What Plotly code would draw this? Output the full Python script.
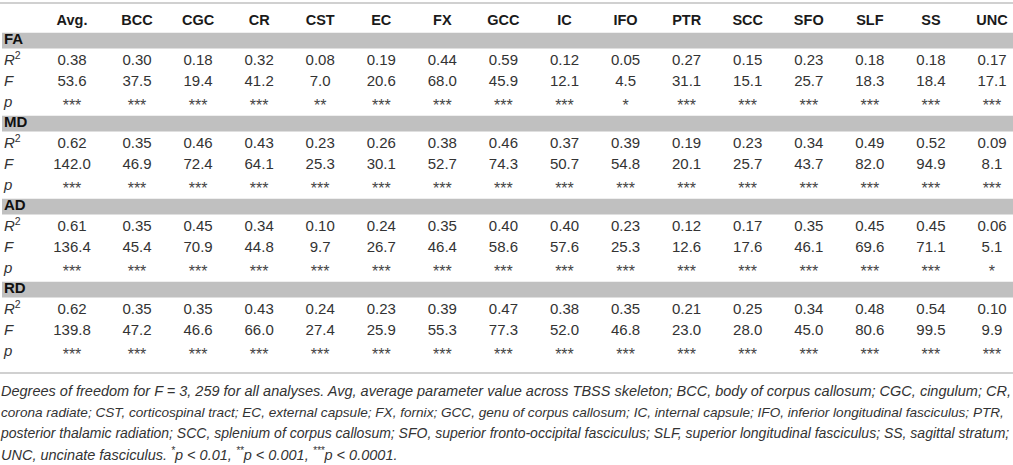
import plotly.graph_objects as go

# --- table content -------------------------------------------------------
columns = ["Avg.", "BCC", "CGC", "CR", "CST", "EC", "FX", "GCC", "IC",
           "IFO", "PTR", "SCC", "SFO", "SLF", "SS", "UNC"]
groups = ["FA", "MD", "AD", "RD"]

fa_r2 = [0.38, 0.30, 0.18, 0.32, 0.08, 0.19, 0.44, 0.59, 0.12, 0.05, 0.27, 0.15, 0.23, 0.18, 0.18, 0.17]
fa_f = [53.6, 37.5, 19.4, 41.2, 7.0, 20.6, 68.0, 45.9, 12.1, 4.5, 31.1, 15.1, 25.7, 18.3, 18.4, 17.1]
fa_p = ["***", "***", "***", "***", "**", "***", "***", "***", "***", "*", "***", "***", "***", "***", "***", "***"]

md_r2 = [0.62, 0.35, 0.46, 0.43, 0.23, 0.26, 0.38, 0.46, 0.37, 0.39, 0.19, 0.23, 0.34, 0.49, 0.52, 0.09]
md_f = [142.0, 46.9, 72.4, 64.1, 25.3, 30.1, 52.7, 74.3, 50.7, 54.8, 20.1, 25.7, 43.7, 82.0, 94.9, 8.1]
md_p = ["***"] * 16

ad_r2 = [0.61, 0.35, 0.45, 0.34, 0.10, 0.24, 0.35, 0.40, 0.40, 0.23, 0.12, 0.17, 0.35, 0.45, 0.45, 0.06]
ad_f = [136.4, 45.4, 70.9, 44.8, 9.7, 26.7, 46.4, 58.6, 57.6, 25.3, 12.6, 17.6, 46.1, 69.6, 71.1, 5.1]
ad_p = ["***"] * 15 + ["*"]

rd_r2 = [0.62, 0.35, 0.35, 0.43, 0.24, 0.23, 0.39, 0.47, 0.38, 0.35, 0.21, 0.25, 0.34, 0.48, 0.54, 0.10]
rd_f = [139.8, 47.2, 46.6, 66.0, 27.4, 25.9, 55.3, 77.3, 52.0, 46.8, 23.0, 28.0, 45.0, 80.6, 99.5, 9.9]
rd_p = ["***"] * 16

stat_labels = ["<i>R</i><sup>2</sup>", "<i>F</i>", "<i>p</i>"]

footnote_lines = [
    "Degrees of freedom for F = 3, 259 for all analyses. Avg, average parameter value across TBSS skeleton; "
    "BCC, body of corpus callosum; CGC, cingulum; CR,",
    "corona radiate; CST, corticospinal tract; EC, external capsule; FX, fornix; GCC, genu of corpus callosum; "
    "IC, internal capsule; IFO, inferior longitudinal fasciculus; PTR,",
    "posterior thalamic radiation; SCC, splenium of corpus callosum; SFO, superior fronto-occipital fasciculus; "
    "SLF, superior longitudinal fasciculus; SS, sagittal stratum;",
    "UNC, uncinate fasciculus. <sup>*</sup>p &lt; 0.01, <sup>**</sup>p &lt; 0.001, <sup>***</sup>p &lt; 0.0001.",
]

# --- layout constants ----------------------------------------------------
W, H = 1013, 465
ROW_PX = 20.75          # pixel height of one table row
ROW0_PX = 19.85         # pixel centre of header row
COL_X = [72] + [137 + 61.07 * k for k in range(len(columns) - 1)]
LABEL_X = 4
FONT = "Liberation Sans"
BAND = "#c0c0c0"
RULE = "#d0d0d0"
# per-line sizes so the (justified in the original) footnote lines fill the width
FOOT_SIZES = [14.5, 13.6, 14.0, 14.5]

group_data = {
    "FA": (fa_r2, fa_f, fa_p),
    "MD": (md_r2, md_f, md_p),
    "AD": (ad_r2, ad_f, ad_p),
    "RD": (rd_r2, rd_f, rd_p),
}

val_x, val_y, val_t = [], [], []
star_x, star_y, star_t = [], [], []
lab_y, lab_t = [], []
grp_y = []
shapes = []

for gi, g in enumerate(groups):
    band_row = 1 + 4 * gi
    grp_y.append(band_row)
    shapes.append(dict(type="rect", xref="x", yref="y", x0=2, x1=W,
                       y0=band_row - 0.38, y1=band_row + 0.38,
                       fillcolor=BAND, line=dict(width=0), layer="below"))
    r2, f, p = group_data[g]
    for k, (vals, fmt) in enumerate([(r2, "{:.2f}"), (f, "{:.1f}")]):
        for ci, v in enumerate(vals):
            val_x.append(COL_X[ci])
            val_y.append(band_row + 1 + k)
            val_t.append(fmt.format(v))
    for ci, s in enumerate(p):
        star_x.append(COL_X[ci])
        star_y.append(band_row + 3)
        star_t.append(s)
    for k, lab in enumerate(stat_labels):
        lab_y.append(band_row + 1 + k)
        lab_t.append(lab)

n_rows = 1 + 4 * len(groups)
y_top = -ROW0_PX / ROW_PX
y_bot = (H - ROW0_PX) / ROW_PX

# rules above and below the table
shapes.append(dict(type="line", xref="x", yref="y", x0=0, x1=W,
                   y0=-0.81, y1=-0.81, line=dict(color=RULE, width=2)))
shapes.append(dict(type="line", xref="x", yref="y", x0=0, x1=W,
                   y0=n_rows + 0.02, y1=n_rows + 0.02, line=dict(color=RULE, width=2)))

fig = go.Figure()

# header
fig.add_trace(go.Scatter(
    x=COL_X, y=[0.05] * len(columns), mode="text",
    text=["<b>%s</b>" % c for c in columns], textposition="middle center",
    textfont=dict(family=FONT, size=14.5, color="#1a1a1a"), hoverinfo="skip"))

# group names
fig.add_trace(go.Scatter(
    x=[LABEL_X] * len(groups), y=grp_y, mode="text",
    text=["<b>%s</b>" % g for g in groups], textposition="middle right",
    textfont=dict(family=FONT, size=15, color="#111111"), hoverinfo="skip"))

# stat labels
fig.add_trace(go.Scatter(
    x=[LABEL_X] * len(lab_y), y=lab_y, mode="text",
    text=lab_t, textposition="middle right",
    textfont=dict(family=FONT, size=15, color="#333333"), hoverinfo="skip"))

# values
fig.add_trace(go.Scatter(
    x=val_x, y=val_y, mode="text", text=val_t, textposition="middle center",
    textfont=dict(family=FONT, size=15, color="#333333"), hoverinfo="skip"))

# significance stars
fig.add_trace(go.Scatter(
    x=star_x, y=[y + 0.2 for y in star_y], mode="text", text=star_t,
    textposition="middle center",
    textfont=dict(family=FONT, size=16, color="#444444"), hoverinfo="skip"))

# footnote
foot_y = [n_rows + 0.93 + 1.036 * k for k in range(len(footnote_lines))]
fig.add_trace(go.Scatter(
    x=[1] * len(footnote_lines), y=foot_y, mode="text",
    text=["<i>%s</i>" % t for t in footnote_lines], textposition="middle right",
    textfont=dict(family=FONT, size=FOOT_SIZES, color="#333333"),
    hoverinfo="skip"))

fig.update_layout(
    width=W, height=H,
    margin=dict(l=0, r=0, t=0, b=0),
    paper_bgcolor="white", plot_bgcolor="white",
    showlegend=False,
    shapes=shapes,
    xaxis=dict(range=[0, W], visible=False, fixedrange=True),
    yaxis=dict(range=[y_bot, y_top], visible=False, fixedrange=True),
)

# page body has a default 8px margin; drop it so the figure sits at 0,0
fig.write_html("out.html", config={"displayModeBar": False},
               post_script="document.body.style.margin='0';document.body.style.overflow='hidden';")
